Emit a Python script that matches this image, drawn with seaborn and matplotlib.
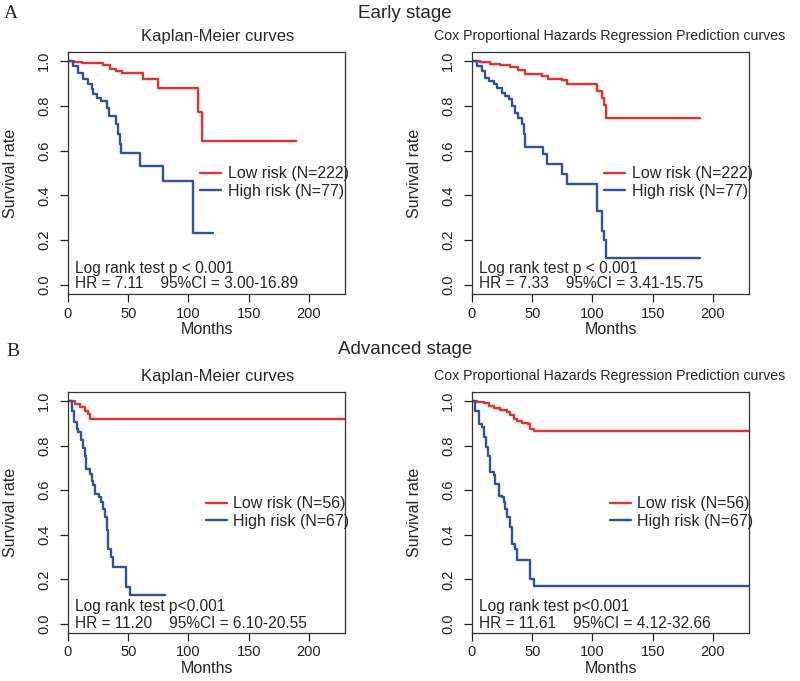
"""Survival curves by risk group: early and advanced stage, KM and Cox panels."""

import matplotlib.pyplot as plt
import pandas as pd
import seaborn as sns

sns.set_theme(style="white")
plt.rcParams["font.family"] = ["Liberation Sans", "DejaVu Sans"]

RED = "#e2322f"
BLUE = "#33529c"

# ---------------------------------------------------------------------------
# Data (months, survival rate)
# ---------------------------------------------------------------------------

# A: early stage, Kaplan-Meier
a_km_low_t = [0, 5, 12, 29, 35, 40, 45, 62, 75, 108, 111, 189]
a_km_low_s = [1.0, 0.995, 0.99, 0.98, 0.965, 0.955, 0.948, 0.921, 0.881, 0.772, 0.643, 0.643]
a_km_high_t = [0, 4.4, 8.5, 12.7, 16.8, 19.6, 20.9, 23.7, 27.8, 32, 34, 40, 41.6, 43,
               44.4, 59.5, 78.8, 103.6, 120]
a_km_high_s = [1.0, 0.978, 0.948, 0.918, 0.896, 0.874, 0.851, 0.836, 0.821, 0.792, 0.754,
               0.717, 0.672, 0.628, 0.591, 0.531, 0.464, 0.233, 0.233]

# A: early stage, Cox prediction
a_cox_low_t = [0, 6.9, 15.2, 23.5, 31.7, 38.6, 44.2, 58, 63.5, 74.6, 78.7, 103.6, 107.7,
               109.7, 111.3, 189]
a_cox_low_s = [1.0, 0.996, 0.988, 0.982, 0.973, 0.96, 0.941, 0.933, 0.921, 0.914, 0.899,
               0.866, 0.833, 0.802, 0.747, 0.747]
a_cox_high_t = [0, 4.1, 8.3, 11, 13.8, 17.9, 20.7, 24.9, 27.6, 30.4, 33.2, 35.9, 38.6,
                41.4, 42.8, 44.2, 59.3, 62.2, 74.6, 78.7, 103.6, 107.7, 109.7, 111.3, 189]
a_cox_high_s = [1.0, 0.978, 0.955, 0.926, 0.911, 0.896, 0.881, 0.859, 0.844, 0.829, 0.799,
                0.769, 0.747, 0.717, 0.672, 0.617, 0.583, 0.541, 0.494, 0.449, 0.33, 0.24,
                0.203, 0.121, 0.121]

# B: advanced stage, Kaplan-Meier
b_km_low_t = [0, 5.8, 9.9, 14, 17, 18.2, 230]
b_km_low_s = [1.0, 0.987, 0.972, 0.957, 0.942, 0.92, 0.92]
b_km_high_t = [0, 3, 5, 7.2, 8.5, 10.5, 12.1, 14, 14.9, 18.2, 19.6, 20.9, 22.3, 25.9,
               27.8, 29.2, 30.6, 32, 33.3, 36.1, 37.5, 48.5, 51.2, 80.2]
b_km_high_s = [1.0, 0.957, 0.905, 0.875, 0.86, 0.823, 0.79, 0.755, 0.696, 0.673, 0.643,
               0.621, 0.584, 0.569, 0.546, 0.517, 0.479, 0.42, 0.338, 0.3, 0.258, 0.166,
               0.129, 0.129]

# B: advanced stage, Cox prediction
b_cox_low_t = [0, 4.1, 9.6, 13.8, 17.9, 23.5, 29, 31.7, 34.5, 37.3, 41.4, 46.9, 48.3,
               51.1, 230]
b_cox_low_s = [1.0, 0.997, 0.99, 0.979, 0.969, 0.96, 0.949, 0.935, 0.92, 0.909, 0.9,
               0.897, 0.875, 0.863, 0.863]
b_cox_high_t = [0, 2.7, 5.5, 8.3, 10.2, 11.9, 13, 15.2, 17.9, 19.3, 22.1, 24.9, 26.2,
                27.6, 29, 31.2, 33.2, 35.9, 37.3, 48.3, 51.1, 230]
b_cox_high_s = [1.0, 0.957, 0.897, 0.882, 0.837, 0.793, 0.755, 0.681, 0.666, 0.629, 0.576,
                0.569, 0.546, 0.517, 0.479, 0.434, 0.36, 0.338, 0.285, 0.203, 0.169, 0.169]

n_low = [222, 222, 56, 56]
n_high = [77, 77, 67, 67]
pvals = ["p < 0.001", "p < 0.001", "p<0.001", "p<0.001"]
hrs = ["7.11", "7.33", "11.20", "11.61"]
cis = ["3.00-16.89", "3.41-15.75", "6.10-20.55", "4.12-32.66"]
titles = ["Kaplan-Meier curves", "Cox Proportional Hazards Regression Prediction curves"] * 2

curves = [
    (a_km_low_t, a_km_low_s, a_km_high_t, a_km_high_s),
    (a_cox_low_t, a_cox_low_s, a_cox_high_t, a_cox_high_s),
    (b_km_low_t, b_km_low_s, b_km_high_t, b_km_high_s),
    (b_cox_low_t, b_cox_low_s, b_cox_high_t, b_cox_high_s),
]

# ---------------------------------------------------------------------------
# Layout (pixels of an 800x681 canvas)
# ---------------------------------------------------------------------------
W, H = 800, 681
boxes = [(68, 52, 277, 242), (472, 52, 277, 242), (68, 392, 277, 241), (472, 392, 277, 241)]
title_x = [218, 610, 218, 610]
title_size = [12, 10.2, 12, 10.2]
legend_anchor = [(0.455, 0.46), (0.455, 0.46), (0.475, 0.50), (0.475, 0.50)]
text_y = [(0.105, 0.045), (0.105, 0.045), (0.108, 0.04), (0.108, 0.04)]

fig = plt.figure(figsize=(W / 100, H / 100), dpi=100)

for i, (lt, ls, ht, hs) in enumerate(curves):
    x0, y0, w, h = boxes[i]
    ax = fig.add_axes([x0 / W, 1 - (y0 + h) / H, w / W, h / H])
    low_lab = f"Low risk (N={n_low[i]})"
    high_lab = f"High risk (N={n_high[i]})"
    df = pd.concat([
        pd.DataFrame({"months": lt, "surv": ls, "group": low_lab}),
        pd.DataFrame({"months": ht, "surv": hs, "group": high_lab}),
    ])
    sns.lineplot(data=df, x="months", y="surv", hue="group",
                 palette={low_lab: RED, high_lab: BLUE}, estimator=None,
                 drawstyle="steps-post", linewidth=1.7, ax=ax)

    ax.set_xlim(0, 230)
    ax.set_ylim(-0.04, 1.04)
    ax.set_xticks([0, 50, 100, 150, 200])
    ax.set_yticks([0.0, 0.2, 0.4, 0.6, 0.8, 1.0])
    ax.set_yticklabels(["0.0", "0.2", "0.4", "0.6", "0.8", "1.0"], rotation=90, va="center")
    ax.tick_params(axis="both", direction="out", length=6, width=0.9, labelsize=10.5,
                   colors="#222222", bottom=True, left=True)
    ax.tick_params(axis="y", pad=6)
    ax.tick_params(axis="x", pad=3)
    for sp in ax.spines.values():
        sp.set_color("#333333")
        sp.set_linewidth(0.9)
    ax.set_xlabel("Months", fontsize=11.5, labelpad=1)
    ax.set_ylabel("Survival rate", fontsize=11.5)
    ax.yaxis.set_label_coords(-0.18, 0.5)

    ax.legend(loc="center left", bbox_to_anchor=legend_anchor[i], frameon=False,
              fontsize=11.5, handlelength=1.3, handletextpad=0.4, labelspacing=0.15,
              borderaxespad=0)
    ax.text(0.025, text_y[i][0], f"Log rank test {pvals[i]}", transform=ax.transAxes,
            fontsize=11.2, va="center")
    ax.text(0.025, text_y[i][1], f"HR = {hrs[i]}    95%CI = {cis[i]}",
            transform=ax.transAxes, fontsize=11.2, va="center")

    fig.text(title_x[i] / W, 1 - (y0 - 16) / H, titles[i], ha="center", va="center",
             fontsize=title_size[i])

fig.text(405 / W, 1 - 13 / H, "Early stage", ha="center", va="center", fontsize=13.5)
fig.text(405 / W, 1 - 350 / H, "Advanced stage", ha="center", va="center", fontsize=13.5)
fig.text(4 / W, 1 - 13 / H, "A", ha="left", va="center", fontsize=14,
         family=["Liberation Serif", "DejaVu Serif"])
fig.text(6 / W, 1 - 351 / H, "B", ha="left", va="center", fontsize=14,
         family=["Liberation Serif", "DejaVu Serif"])

fig.savefig("out.png", dpi=100)
plt.close(fig)
